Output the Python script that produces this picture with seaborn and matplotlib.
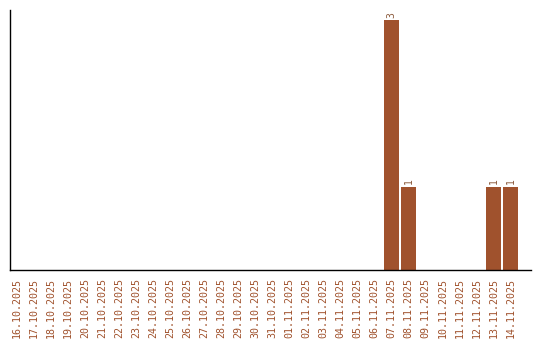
import matplotlib
matplotlib.use("Agg")
import matplotlib.pyplot as plt
import seaborn as sns
import pandas as pd

dates = ["16.10.2025", "17.10.2025", "18.10.2025", "19.10.2025", "20.10.2025",
         "21.10.2025", "22.10.2025", "23.10.2025", "24.10.2025", "25.10.2025",
         "26.10.2025", "27.10.2025", "28.10.2025", "29.10.2025", "30.10.2025",
         "31.10.2025", "01.11.2025", "02.11.2025", "03.11.2025", "04.11.2025",
         "05.11.2025", "06.11.2025", "07.11.2025", "08.11.2025", "09.11.2025",
         "10.11.2025", "11.11.2025", "12.11.2025", "13.11.2025", "14.11.2025"]
counts = [0, 0, 0, 0, 0, 0, 0, 0, 0, 0,
          0, 0, 0, 0, 0, 0, 0, 0, 0, 0,
          0, 0, 3, 1, 0, 0, 0, 0, 1, 1]

df = pd.DataFrame({"date": dates, "count": counts})

sns.set_style("white")
plt.rcParams['font.family'] = ['DejaVu Sans Mono', 'DejaVu Sans']

fig = plt.figure(figsize=(5.4, 3.4), dpi=100)
ax = fig.add_axes([10/540, 70/340, 521/540, 260/340])
sns.barplot(data=df, x="date", y="count", color="#a0522d", saturation=1,
            width=0.84, linewidth=0, ax=ax)

for i, v in enumerate(counts):
    if v > 0:
        ax.text(i, v + 0.03, str(v), rotation=90, ha="center", va="bottom",
                fontsize=7, color="#8b5a3c")

ax.set_xlim(-0.41, 30.2)
ax.set_ylim(0, 3.12)
ax.set_xlabel("")
ax.set_ylabel("")
ax.set_yticks([])
ax.tick_params(axis="x", length=0, pad=6, labelrotation=90, labelsize=7.2,
               labelcolor="#a0522d")
for s in ["top", "right"]:
    ax.spines[s].set_visible(False)
for s in ["left", "bottom"]:
    ax.spines[s].set_color("black")
    ax.spines[s].set_linewidth(1)

fig.savefig("out.png", dpi=100)
